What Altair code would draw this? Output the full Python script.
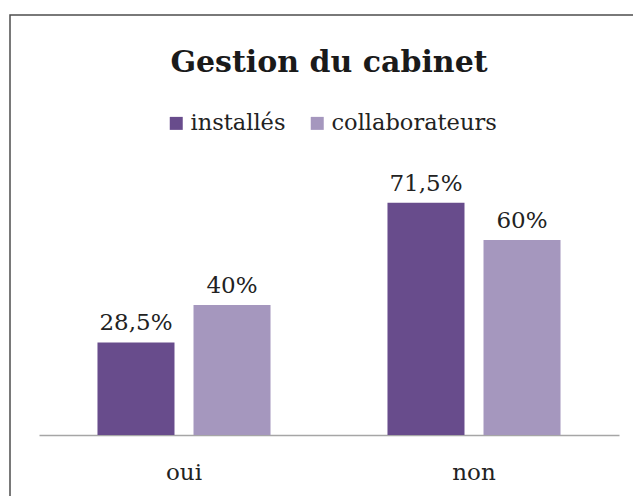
import altair as alt
import pandas as pd

categories = ["oui", "non"]
series = ["installés", "collaborateurs"]
installes = [28.5, 71.5]
collaborateurs = [40, 60]
colors = ["#684C8C", "#A597BE"]

rows = []
for s, vals in zip(series, [installes, collaborateurs]):
    for c, v in zip(categories, vals):
        rows.append({"cat": c, "serie": s, "val": v,
                     "label": f"{v:g}".replace(".", ",") + "%"})
df = pd.DataFrame(rows)

FONT = "DejaVu Serif"

x = alt.X("cat:N", sort=categories,
          scale=alt.Scale(paddingInner=0, paddingOuter=0),
          axis=alt.Axis(title=None, labelAngle=0, ticks=False, tickSize=0,
                        labelFont=FONT, labelFontSize=23, labelColor="#222222",
                        labelBaseline="alphabetic", labelPadding=44,
                        domainColor="#A6A6A6", domainWidth=1.5, grid=False))
xo = alt.XOffset("serie:N", sort=series,
                 scale=alt.Scale(paddingInner=0.198, paddingOuter=0.609))
y = alt.Y("val:Q", scale=alt.Scale(domain=[0, 80]), axis=None)

base = alt.Chart(df)
bars = base.mark_bar().encode(
    x=x, xOffset=xo, y=y,
    color=alt.Color("serie:N", sort=series,
                    scale=alt.Scale(domain=series, range=colors),
                    legend=alt.Legend(title=None, orient="none", direction="horizontal",
                                      legendX=126, legendY=-63,
                                      symbolType="square", symbolSize=169,
                                      symbolStrokeWidth=0, labelFont=FONT,
                                      labelFontSize=22.5, labelColor="#222222",
                                      labelLimit=400,
                                      labelOffset=3, columnPadding=20, padding=0)),
)
labels = base.mark_text(baseline="alphabetic", dy=-12, font=FONT, fontSize=23,
                        color="#222222").encode(
    x=x, xOffset=xo, y=y, text="label:N")

frame = alt.Chart(pd.DataFrame({"a": [0]})).mark_rect(
    fill=None, stroke="#4D4D4D", strokeWidth=1.5).encode(
    x=alt.value(-29), x2=alt.value(700), y=alt.value(-160), y2=alt.value(400))

chart = alt.layer(frame, bars, labels).properties(
    width=580, height=260,
    title=alt.TitleParams("Gestion du cabinet", font=FONT, fontSize=30,
                          fontWeight="bold", color="#1A1A1A", anchor="middle",
                          offset=-64),
    autosize=alt.AutoSizeParams(type="none"),
    padding={"left": 31, "top": 167, "right": 14, "bottom": 61},
).configure_view(stroke=None)

chart.save("out.html", embed_options={"renderer": "svg", "actions": False})
